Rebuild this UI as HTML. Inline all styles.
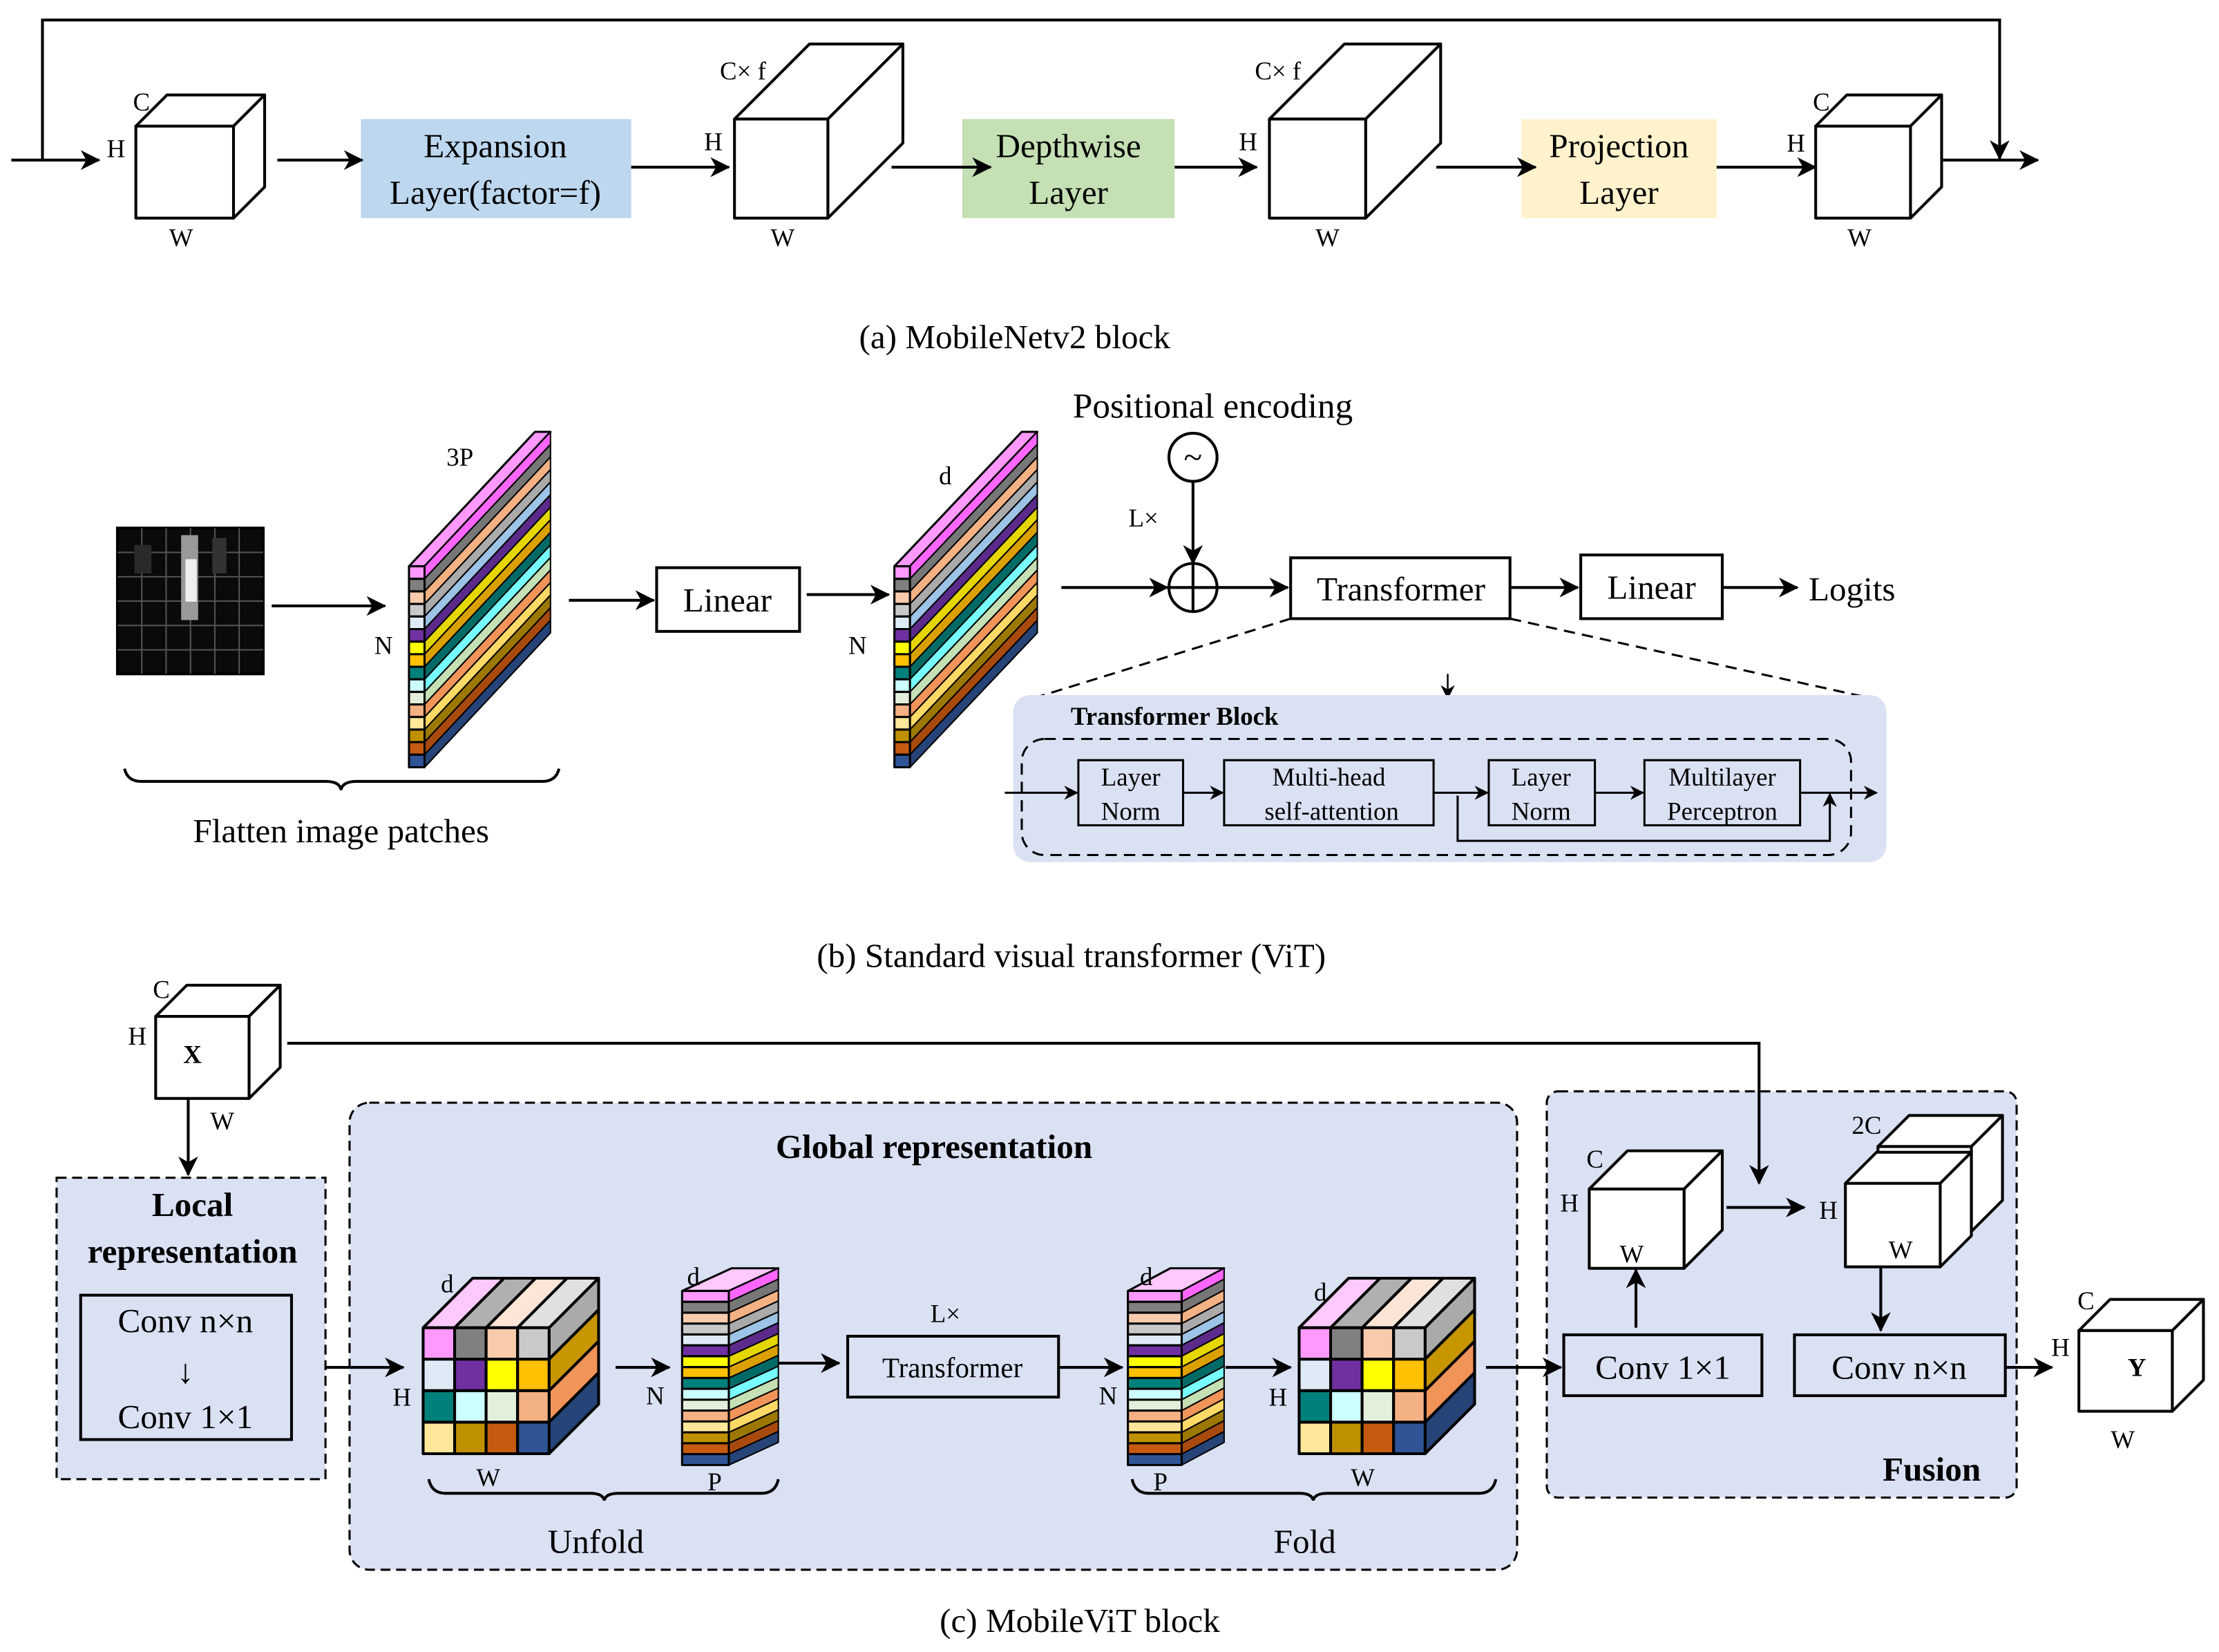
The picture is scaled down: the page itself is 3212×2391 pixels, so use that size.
<!DOCTYPE html>
<html><head><meta charset="utf-8"><style>
html,body{margin:0;padding:0;background:#fff}
svg{display:block}
text{font-family:"Liberation Serif",serif;fill:#000}
</style></head><body>
<svg id="s" width="3212" height="2391" viewBox="0 0 1568 1167" xmlns="http://www.w3.org/2000/svg">
<defs>
<marker id="a" markerWidth="10" markerHeight="10" refX="9" refY="5" orient="auto" markerUnits="userSpaceOnUse"><path d="M0,0 L10,5 L0,10 L3,5 z" fill="#000"/></marker>
<marker id="as" markerWidth="14" markerHeight="14" refX="13" refY="7" orient="auto" markerUnits="userSpaceOnUse"><path d="M0,0 L14,7 L0,14 L4,7 z" fill="#000"/></marker>
</defs>
<rect x="255" y="84" width="191" height="70" fill="#bdd7ee"/>
<rect x="680" y="84" width="150" height="70" fill="#c5e0b4"/>
<rect x="1075" y="84" width="138" height="70" fill="#fff2cc"/>
<g id="g" stroke="#000" stroke-width="2" fill="none">
<!-- (a) -->
<polyline points="30,113 30,14 1413,14 1413,112" marker-end="url(#as)"/>
<line x1="8" y1="113" x2="70" y2="113" marker-end="url(#as)"/>
<line x1="1373" y1="113" x2="1440" y2="113" marker-end="url(#as)"/>
<line x1="196" y1="113" x2="256" y2="113" marker-end="url(#as)"/>
<line x1="446" y1="118" x2="515" y2="118" marker-end="url(#as)"/>
<line x1="630" y1="118" x2="700" y2="118" marker-end="url(#as)"/>
<line x1="830" y1="118" x2="888" y2="118" marker-end="url(#as)"/>
<line x1="1015" y1="118" x2="1085" y2="118" marker-end="url(#as)"/>
<line x1="1213" y1="118" x2="1283" y2="118" marker-end="url(#as)"/>
<!-- (b) -->
<line x1="192" y1="428" x2="272" y2="428" marker-end="url(#as)"/>
<line x1="402" y1="424" x2="462" y2="424" marker-end="url(#as)"/>
<line x1="570" y1="420" x2="628" y2="420" marker-end="url(#as)"/>
<rect x="464" y="401" width="101" height="45"/>
<circle cx="843" cy="323" r="17"/>
<line x1="843" y1="340" x2="843" y2="398" marker-end="url(#as)"/>
<circle cx="843" cy="415" r="17"/>
<line x1="826" y1="415" x2="860" y2="415"/><line x1="843" y1="398" x2="843" y2="432"/>
<line x1="750" y1="415" x2="825" y2="415" marker-end="url(#as)"/>
<line x1="860" y1="415" x2="910" y2="415" marker-end="url(#as)"/>
<rect x="912" y="394" width="155" height="43"/>
<line x1="1067" y1="415" x2="1115" y2="415" marker-end="url(#as)"/>
<rect x="1117" y="392" width="100" height="45"/>
<line x1="1217" y1="415" x2="1270" y2="415" marker-end="url(#as)"/>
<line x1="912" y1="437" x2="718" y2="497" stroke-dasharray="8,5" stroke-width="1.5"/>
<line x1="1067" y1="437" x2="1330" y2="495" stroke-dasharray="8,5" stroke-width="1.5"/>
<line x1="1023" y1="476" x2="1023" y2="493" stroke-width="1.2" marker-end="url(#a)"/>
<rect x="716" y="491" width="617" height="118" rx="12" fill="#dae1f3" stroke="none"/>
<rect x="722" y="522" width="586" height="82" rx="16" stroke-dasharray="8,5" stroke-width="1.5"/>
<rect x="762" y="537" width="74" height="46" stroke-width="1.5"/>
<rect x="865" y="537" width="148" height="46" stroke-width="1.5"/>
<rect x="1052" y="537" width="75" height="46" stroke-width="1.5"/>
<rect x="1162" y="537" width="110" height="46" stroke-width="1.5"/>
<g stroke-width="1.5">
<line x1="710" y1="560" x2="761" y2="560" marker-end="url(#a)"/>
<line x1="836" y1="560" x2="864" y2="560" marker-end="url(#a)"/>
<line x1="1013" y1="560" x2="1051" y2="560" marker-end="url(#a)"/>
<line x1="1127" y1="560" x2="1161" y2="560" marker-end="url(#a)"/>
<line x1="1272" y1="560" x2="1326" y2="560" marker-end="url(#a)"/>
<polyline points="1030,562 1030,594 1293,594 1293,561" marker-end="url(#a)"/>
</g>
<path d="M88,543 Q90,552 100,552 L230,552 Q240,552 241,558 Q242,552 252,552 L383,552 Q393,552 395,543"/>
<!-- (c) -->
<rect x="40" y="832" width="190" height="213" fill="#dae1f3" stroke-dasharray="7,4" stroke-width="1.5"/>
<rect x="247" y="779" width="825" height="330" rx="14" fill="#dae1f3" stroke-dasharray="7,4" stroke-width="1.5"/>
<rect x="1093" y="771" width="332" height="287" rx="8" fill="#dae1f3" stroke-dasharray="7,4" stroke-width="1.5"/>
<polyline points="203,737 1243,737 1243,836" marker-end="url(#as)"/>
<line x1="133" y1="776" x2="133" y2="830" marker-end="url(#as)"/>
<rect x="57" y="915" width="149" height="102"/>
<line x1="230" y1="966" x2="285" y2="966" marker-end="url(#as)"/>
<line x1="435" y1="966" x2="473" y2="966" marker-end="url(#as)"/>
<line x1="550" y1="963" x2="593" y2="963" marker-end="url(#as)"/>
<rect x="599" y="944" width="149" height="43"/>
<line x1="748" y1="966" x2="793" y2="966" marker-end="url(#as)"/>
<line x1="866" y1="966" x2="912" y2="966" marker-end="url(#as)"/>
<line x1="1050" y1="966" x2="1103" y2="966" marker-end="url(#as)"/>
<line x1="1220" y1="853" x2="1275" y2="853" marker-end="url(#as)"/>
<line x1="1156" y1="938" x2="1156" y2="897" marker-end="url(#as)"/>
<line x1="1329" y1="895" x2="1329" y2="940" marker-end="url(#as)"/>
<rect x="1105" y="943" width="140" height="43"/>
<rect x="1268" y="943" width="149" height="43"/>
<line x1="1417" y1="966" x2="1450" y2="966" marker-end="url(#as)"/>
<path d="M303,1045 Q305,1055 315,1055 L417,1055 Q426,1055 427,1060 Q428,1055 437,1055 L538,1055 Q548,1055 550,1045"/>
<path d="M800,1045 Q802,1055 812,1055 L918,1055 Q927,1055 928,1060 Q929,1055 938,1055 L1045,1055 Q1055,1055 1057,1045"/>
</g>
<g id="dyn"></g>
<g font-size="24" text-anchor="middle">
<text x="350" y="111">Expansion</text><text x="350" y="144">Layer(factor=f)</text>
<text x="755" y="111">Depthwise</text><text x="755" y="144">Layer</text>
<text x="1144" y="111">Projection</text><text x="1144" y="144">Layer</text>
<text x="717" y="246">(a) MobileNetv2 block</text>
<text x="514" y="432">Linear</text>
<text x="990" y="424">Transformer</text>
<text x="1167" y="423">Linear</text>
<text x="1278" y="424" text-anchor="start">Logits</text>
<text x="857" y="295" font-size="25">Positional encoding</text>
<text x="241" y="595">Flatten image patches</text>
<text x="757" y="683">(b) Standard visual transformer (ViT)</text>
<text x="136" y="859" font-weight="bold">Local</text>
<text x="136" y="892" font-weight="bold">representation</text>
<text x="131" y="941">Conv n×n</text>
<text x="131" y="977">↓</text>
<text x="131" y="1009">Conv 1×1</text>
<text x="660" y="818" font-weight="bold">Global representation</text>
<text x="421" y="1097">Unfold</text>
<text x="922" y="1097">Fold</text>
<text x="1365" y="1046" font-weight="bold">Fusion</text>
<text x="1175" y="974">Conv 1×1</text>
<text x="1342" y="974">Conv n×n</text>
<text x="763" y="1153">(c) MobileViT block</text>
</g>
<g font-size="18" text-anchor="middle">
<text x="808" y="372">L×</text>
<text x="668" y="934">L×</text>
<text x="673" y="973" font-size="20">Transformer</text>
<text x="830" y="512" font-weight="bold">Transformer Block</text>
<text x="799" y="555">Layer</text><text x="799" y="579">Norm</text>
<text x="939" y="555">Multi-head</text><text x="941" y="579">self-attention</text>
<text x="1089" y="555">Layer</text><text x="1089" y="579">Norm</text>
<text x="1217" y="555">Multilayer</text><text x="1217" y="579">Perceptron</text>
<text x="325" y="329">3P</text><text x="271" y="462">N</text>
<text x="668" y="342">d</text><text x="606" y="462">N</text>
<text x="316" y="913">d</text><text x="284" y="993">H</text><text x="345" y="1050">W</text>
<text x="463" y="992">N</text><text x="490" y="908">d</text><text x="505" y="1053">P</text>
<text x="810" y="908">d</text><text x="783" y="992">N</text><text x="820" y="1053">P</text>
<text x="933" y="919">d</text><text x="903" y="993">H</text><text x="963" y="1050">W</text>
<text x="1127" y="825">C</text><text x="1109" y="856">H</text><text x="1153" y="892">W</text>
<text x="1319" y="801">2C</text><text x="1292" y="861">H</text><text x="1343" y="889">W</text>
<text x="114" y="705">C</text><text x="97" y="738">H</text><text x="157" y="798">W</text>
<text x="136" y="751" font-weight="bold">X</text>
<text x="1474" y="925">C</text><text x="1456" y="958">H</text><text x="1500" y="1023">W</text>
<text x="1510" y="972" font-weight="bold">Y</text>
<text x="100" y="78">C</text><text x="82" y="111">H</text><text x="128" y="174">W</text>
<text x="525" y="56">C× f</text><text x="504" y="106">H</text><text x="553" y="174">W</text>
<text x="903" y="56">C× f</text><text x="882" y="106">H</text><text x="938" y="174">W</text>
<text x="1287" y="78">C</text><text x="1269" y="107">H</text><text x="1314" y="174">W</text>
</g>
</svg>
<script>
var NS="http://www.w3.org/2000/svg",D=document.getElementById("dyn");
function el(t,a){var e=document.createElementNS(NS,t);for(var k in a)e.setAttribute(k,a[k]);D.appendChild(e);return e;}
function poly(p,f,w){el("polygon",{points:p.map(function(q){return q.join(",")}).join(" "),fill:f,stroke:"#000","stroke-width":w||2,"stroke-linejoin":"round"});}
function cube(x,y,w,h,d,f){f=f||"#fff";poly([[x,y],[x+d,y-d],[x+w+d,y-d],[x+w,y]],f);poly([[x+w,y],[x+w+d,y-d],[x+w+d,y+h-d],[x+w,y+h]],f);poly([[x,y],[x+w,y],[x+w,y+h],[x,y+h]],f);}
cube(96,89,69,65,22);cube(519,84,66,70,53);cube(897,84,68,70,53);cube(1283,89,67,65,22);
cube(110,718,66,58,22);cube(1469,940,66,57,22);
cube(1123,840,67,56,27);cube(1327,810,66,60,22);cube(1304,836,67,59,22);
var SC=["#ff99ff","#808080","#f8cbad","#c9c9c9","#deebf7","#7030a0","#ffff00","#ffc000","#00807a","#ccffff","#e2efda","#f4b183","#ffe699","#bf9000","#c55a11","#2f5597"];
var SS=["#ff66ff","#777","#f4b183","#aaa","#9dc3e6","#5b2a8a","#e6d600","#d9a000","#006b66","#7ff","#c5e0b4","#f0945a","#ffd966","#9c7800","#a84a0e","#264478"];
function stack(x,y,fw,h,dx,dy,top){var n=16,s=h/n;
 poly([[x,y],[x+dx,y-dy],[x+fw+dx,y-dy],[x+fw,y]],top,1.5);
 for(var i=0;i<n;i++){var yy=y+i*s;poly([[x+fw,yy],[x+fw+dx,yy-dy],[x+fw+dx,yy+s-dy],[x+fw,yy+s]],SS[i],1);poly([[x,yy],[x+fw,yy],[x+fw,yy+s],[x,yy+s]],SC[i],1.5);}}
stack(289,400,11,142,89,95,"#ff99ff");
stack(632,400,11,142,90,95,"#ff99ff");
stack(482,912,33,123,35,16,"#ffc8ff");
stack(797,912,38,123,30,16,"#ffc8ff");
var G=[["#ff99ff","#808080","#f8cbad","#c9c9c9"],["#deebf7","#7030a0","#ffff00","#ffc000"],["#00807a","#ccffff","#e2efda","#f4b183"],["#ffe699","#bf9000","#c55a11","#2f5597"]];
var GT=["#ffc8ff","#b0b0b0","#fce4d6","#e0e0e0"],GS=["#aaaaaa","#c89600","#f0945a","#264478"];
function grid(x,y,c,d){for(var j=0;j<4;j++){var xx=x+j*c;poly([[xx,y],[xx+d,y-d],[xx+c+d,y-d],[xx+c,y]],GT[j]);}
 for(var i=0;i<4;i++){var yy=y+i*c;poly([[x+4*c,yy],[x+4*c+d,yy-d],[x+4*c+d,yy+c-d],[x+4*c,yy+c]],GS[i]);for(var j=0;j<4;j++)poly([[x+j*c,yy],[x+j*c+c,yy],[x+j*c+c,yy+c],[x+j*c,yy+c]],G[i][j]);}}
grid(299,938,22.25,35);grid(918,938,22.25,35);
el("rect",{x:83,y:373,width:103,height:103,fill:"#0a0a0a",stroke:"#000","stroke-width":2});
for(var i=1;i<6;i++){el("line",{x1:83+i*17.2,y1:373,x2:83+i*17.2,y2:476,stroke:"#555","stroke-width":1});el("line",{x1:83,y1:373+i*17.2,x2:186,y2:373+i*17.2,stroke:"#555","stroke-width":1});}
el("rect",{x:128,y:378,width:12,height:60,fill:"#999"});el("rect",{x:131,y:395,width:8,height:30,fill:"#eee"});
el("rect",{x:150,y:380,width:10,height:25,fill:"#333"});el("rect",{x:95,y:385,width:12,height:20,fill:"#2a2a2a"});
var t=el("text",{x:843,y:331,"font-size":"24","text-anchor":"middle"});t.textContent="~";
</script>
</body></html>
